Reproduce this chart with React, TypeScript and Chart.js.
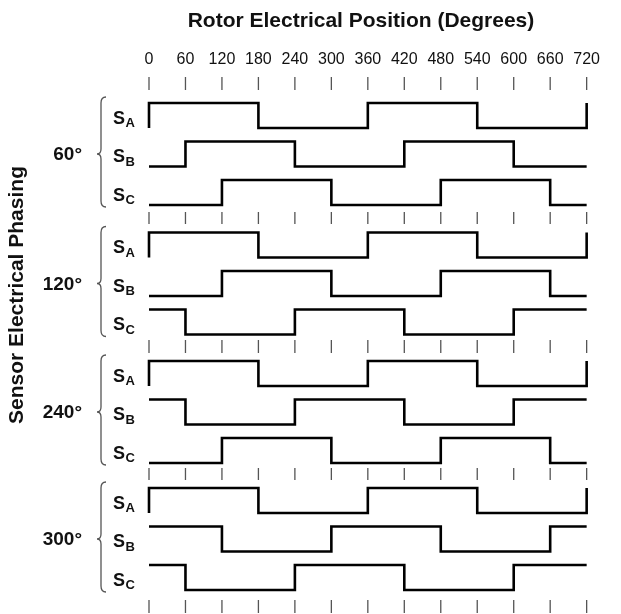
import React, { useEffect, useRef } from 'react';
import { Chart, registerables } from 'chart.js';

Chart.register(...registerables);

// ---------- data ----------
const xTicks = [0, 60, 120, 180, 240, 300, 360, 420, 480, 540, 600, 660, 720];
const chartTitle = 'Rotor Electrical Position (Degrees)';
const yTitle = 'Sensor Electrical Phasing';
const groupLabels = ['60°', '120°', '240°', '300°'];
const signalNames = ['A', 'B', 'C'];

// logic level of each 60° segment (0–60, 60–120, …, 660–720)
const sA = [1, 1, 1, 0, 0, 0, 1, 1, 1, 0, 0, 0];
const sB60 = [0, 1, 1, 1, 0, 0, 0, 1, 1, 1, 0, 0];
const sC60 = [0, 0, 1, 1, 1, 0, 0, 0, 1, 1, 1, 0];
const sB120 = [0, 0, 1, 1, 1, 0, 0, 0, 1, 1, 1, 0];
const sC120 = [1, 0, 0, 0, 1, 1, 1, 0, 0, 0, 1, 1];
const sB240 = [1, 0, 0, 0, 1, 1, 1, 0, 0, 0, 1, 1];
const sC240 = [0, 0, 1, 1, 1, 0, 0, 0, 1, 1, 1, 0];
const sB300 = [1, 1, 0, 0, 0, 1, 1, 1, 0, 0, 0, 1];
const sC300 = [1, 0, 0, 0, 1, 1, 1, 0, 0, 0, 1, 1];
// S_A is drawn with an edge coming from low at 0° and going back high at 720°
const sAEdges = [0, 1];

const groupSignals = [
  [sA, sB60, sC60],
  [sA, sB120, sC120],
  [sA, sB240, sC240],
  [sA, sB300, sC300],
];

// ---------- layout (not data) ----------
const GROUP_TOP = [103, 232.5, 361, 488];
const SIGNAL_OFFSET = [0, 38.5, 77];
const AMP = 25;
const TICK_ROWS = [[77, 90], [212, 224], [340, 353], [468, 480], [600, 613]];
const SEG = 60;
const FONT = '"Liberation Sans", Arial, Helvetica, sans-serif';
const NARROW = '"Liberation Sans Narrow", "Arial Narrow", "Liberation Sans", sans-serif';

function buildWave(levels: number[], top: number, edges: number[] | null) {
  const yOf = (l: number) => (l ? top : top + AMP);
  const pts: { x: number; y: number }[] = [];
  let cur = edges ? edges[0] : levels[0];
  pts.push({ x: 0, y: yOf(cur) });
  levels.forEach((l, i) => {
    if (l !== cur) {
      pts.push({ x: i * SEG, y: yOf(cur) });
      pts.push({ x: i * SEG, y: yOf(l) });
      cur = l;
    }
  });
  const end = levels.length * SEG;
  pts.push({ x: end, y: yOf(cur) });
  if (edges && edges[1] !== cur) pts.push({ x: end, y: yOf(edges[1]) });
  return pts;
}

function buildTicks() {
  const pts: { x: number; y: number | null }[] = [];
  TICK_ROWS.forEach(([a, b]) => {
    xTicks.forEach((x) => {
      pts.push({ x, y: a });
      pts.push({ x, y: b });
      pts.push({ x, y: null });
    });
  });
  return pts;
}

const sideLabels = {
  id: 'sideLabels',
  afterDatasetsDraw(chart: any) {
    const ctx = chart.ctx as CanvasRenderingContext2D;
    const ys = chart.scales.y;
    const left = chart.chartArea.left;
    ctx.save();
    ctx.fillStyle = '#111';

    // vertical axis title
    ctx.save();
    ctx.translate(17, ys.getPixelForValue(295));
    ctx.rotate(-Math.PI / 2);
    ctx.font = `bold 21px ${FONT}`;
    ctx.textAlign = 'center';
    ctx.textBaseline = 'middle';
    ctx.fillText(yTitle, 0, 0);
    ctx.restore();

    groupLabels.forEach((label, gi) => {
      const top = GROUP_TOP[gi];
      const mid = ys.getPixelForValue(top + SIGNAL_OFFSET[1] + AMP / 2);
      const bTop = ys.getPixelForValue(top - 6);
      const bBot = ys.getPixelForValue(top + SIGNAL_OFFSET[2] + AMP + 2);

      // group label
      ctx.font = `bold 19px ${FONT}`;
      ctx.textAlign = 'right';
      ctx.textBaseline = 'middle';
      ctx.fillText(label, left - 67, mid + 1);

      // brace
      const bx = left - 48;
      ctx.beginPath();
      ctx.strokeStyle = '#555';
      ctx.lineWidth = 1.3;
      ctx.moveTo(bx + 5, bTop);
      ctx.quadraticCurveTo(bx, bTop, bx, bTop + 6);
      ctx.lineTo(bx, mid - 5);
      ctx.quadraticCurveTo(bx, mid, bx - 4, mid);
      ctx.quadraticCurveTo(bx, mid, bx, mid + 5);
      ctx.lineTo(bx, bBot - 6);
      ctx.quadraticCurveTo(bx, bBot, bx + 5, bBot);
      ctx.stroke();

      // signal labels S_A, S_B, S_C
      signalNames.forEach((s, si) => {
        const rowMid = ys.getPixelForValue(top + SIGNAL_OFFSET[si] + AMP / 2);
        const sx = left - 36;
        ctx.textAlign = 'left';
        ctx.textBaseline = 'alphabetic';
        ctx.font = `bold 18px ${FONT}`;
        ctx.fillText('S', sx, rowMid + 8);
        const w = ctx.measureText('S').width;
        ctx.font = `bold 13px ${FONT}`;
        ctx.fillText(s, sx + w + 0.5, rowMid + 11.5);
      });
    });
    ctx.restore();
  },
};

export default function App() {
  const ref = useRef<HTMLCanvasElement | null>(null);

  useEffect(() => {
    document.body.style.margin = '0';
    if (!ref.current) return;

    const datasets: any[] = [];
    groupSignals.forEach((sigs, gi) => {
      sigs.forEach((levels, si) => {
        datasets.push({
          label: `${groupLabels[gi]} S${signalNames[si]}`,
          data: buildWave(levels, GROUP_TOP[gi] + SIGNAL_OFFSET[si], si === 0 ? sAEdges : null),
          borderColor: '#000',
          borderWidth: 2.6,
          borderJoinStyle: 'miter',
          borderCapStyle: 'butt',
          pointRadius: 0,
          fill: false,
          tension: 0,
          clip: false,
        });
      });
    });
    datasets.push({
      label: 'ticks',
      data: buildTicks(),
      borderColor: '#555',
      borderWidth: 1.3,
      pointRadius: 0,
      fill: false,
      spanGaps: false,
      clip: false,
    });

    const chart = new Chart(ref.current, {
      type: 'line',
      data: { datasets },
      plugins: [sideLabels],
      options: {
        animation: false,
        responsive: true,
        maintainAspectRatio: false,
        devicePixelRatio: 1,
        events: [],
        layout: { padding: { left: 115, right: 14, top: 0, bottom: 0 } },
        plugins: {
          legend: { display: false },
          tooltip: { enabled: false },
          title: {
            display: true,
            text: chartTitle,
            color: '#111',
            font: { family: FONT, size: 21, weight: 'bold', lineHeight: 1.2 },
            padding: { top: 9, bottom: 0 },
          },
        },
        scales: {
          x: {
            type: 'linear',
            position: 'top',
            min: 0,
            max: 720,
            afterBuildTicks: (scale: any) => {
              scale.ticks = xTicks.map((v) => ({ value: v }));
            },
            afterFit: (scale: any) => {
              scale.height = 55.8;
            },
            grid: { display: false, drawTicks: false },
            border: { display: false },
            ticks: {
              autoSkip: false,
              maxRotation: 0,
              padding: 21,
              color: '#111',
              font: { family: NARROW, size: 16 },
              callback: (v: any) => String(v),
            },
          },
          y: {
            type: 'linear',
            min: 90,
            max: 614,
            reverse: true,
            afterFit: (scale: any) => {
              scale.width = 34;
            },
            grid: { display: false, drawTicks: false },
            border: { display: false },
            ticks: { display: false },
          },
        },
      },
    });
    return () => chart.destroy();
  }, []);

  return (
    <div style={{ width: 621, height: 614, position: 'relative' }}>
      <canvas ref={ref} />
    </div>
  );
}
